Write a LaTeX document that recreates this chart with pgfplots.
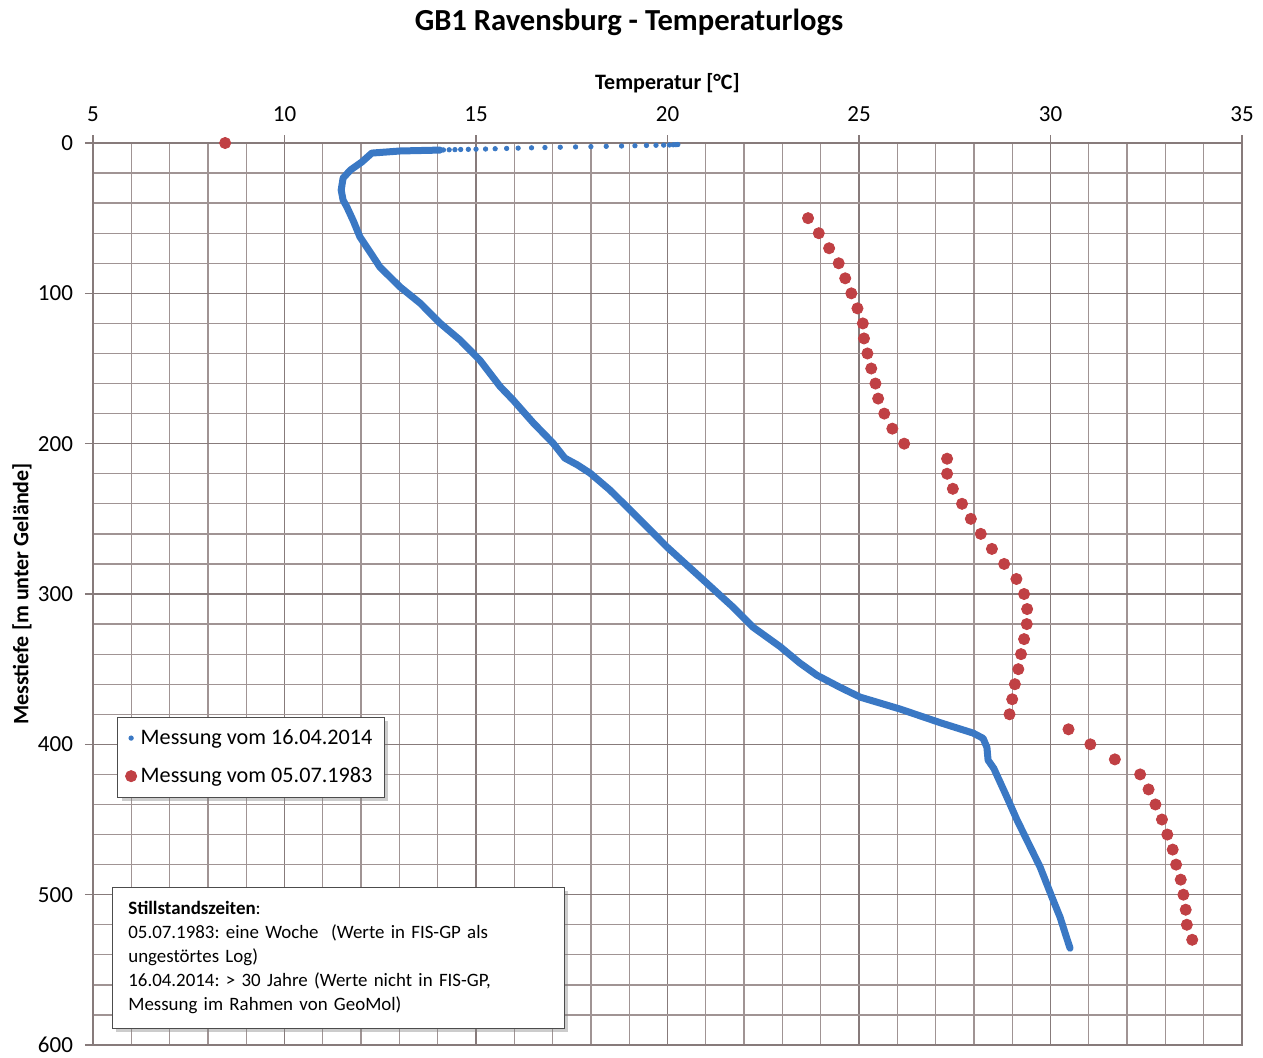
\documentclass[border=0pt]{standalone}
\usepackage{fontspec}
\setmainfont{Carlito}
\usepackage{pgfplots}
\pgfplotsset{compat=1.18}
\usetikzlibrary{shadows}
\definecolor{gridc}{RGB}{160,148,148}
\definecolor{gridm}{RGB}{135,123,123}
\definecolor{blueL}{RGB}{58,120,196}
\definecolor{redL}{RGB}{192,64,68}
\frenchspacing
\begin{document}
\begin{tikzpicture}
\useasboundingbox (-46.5pt,-6pt) rectangle (585pt,522.5pt);
\begin{axis}[
 at={(0,0)}, anchor=south west,
 scale only axis, width=574.5pt, height=451pt,
 xmin=5, xmax=35, ymin=0, ymax=600, y dir=reverse,
 xtick={5,10,...,35}, ytick={0,100,...,600},
 minor x tick num=4, minor y tick num=4,
 grid=both,
 major grid style={gridm, line width=0.7pt},
 minor grid style={gridc, line width=0.65pt},
 axis line style={gridm, line width=0.7pt},
 tick style={gridm, line width=0.7pt},
 tick align=outside, major tick length=4pt, minor tick length=0pt,
 xticklabel pos=upper, xtick pos=upper, ytick pos=left,
 /pgf/number format/assume math mode=true,
 ticklabel style={font=\fontsize{11.5}{13}\selectfont},
 xticklabel style={yshift=3.2pt},
 yticklabel style={xshift=-2.5pt},
 xlabel={Temperatur [°C]},
 ylabel={Messtiefe [m unter Gelände]},
 label style={font=\bfseries\fontsize{11}{13}\selectfont},
 xlabel style={at={(rel axis cs:0.5,1.0665)}, anchor=center},
 ylabel style={at={(rel axis cs:-0.0618,0.5)}, anchor=center},
 clip=false,
 legend style={at={(0.021,0.364)}, anchor=north west, draw=black!70, fill=white,
   drop shadow={shadow xshift=2pt, shadow yshift=-2pt, opacity=0.4},
   font=\fontsize{11.1}{12.8}\selectfont, row sep=6pt, inner xsep=4pt, inner ysep=4pt},
 legend cell align=left,
]
\addplot[blueL, line width=3.5pt, line join=round, line cap=round, forget plot] coordinates {
(14.06,4.7) (13.02,5.3) (12.28,6.7) (12.02,12.6) (11.72,18) (11.53,23.3)
(11.48,31.3) (11.53,38) (11.63,42.6) (11.80,52) (11.97,62.5) (12.22,72)
(12.49,82.5) (13.02,95.8) (13.54,106.5) (14.06,119.8) (14.58,131) (15.10,144.4)
(15.44,155.7) (15.63,162) (15.97,171) (16.49,186) (17.01,199.6) (17.32,209.6)
(17.64,214) (17.98,219.6) (18.50,230.9) (19.10,246) (19.99,268.8) (20.85,288.7)
(21.71,308.7) (22.23,322) (22.94,335) (23.46,346) (23.90,354) (24.50,362)
(25.03,368.6) (26.07,376.5) (27.11,385.5) (27.98,392.5) (28.24,396) (28.34,402)
(28.37,410.5) (28.52,416) (28.86,435) (29.12,450) (29.73,481.7) (30.07,503.7)
(30.25,515) (30.40,527) (30.51,535.6)
};
\addplot[only marks, mark=*, mark size=1.1pt, blueL] coordinates {
(14.00,4.7) (14.15,4.6) (14.30,4.5) (14.45,4.4) (14.60,4.3) (14.80,4.2)
(15.00,4.1) (15.25,4.0) (15.50,3.8) (15.80,3.6) (16.10,3.4) (16.45,3.2)
(16.80,3.0) (17.20,2.8) (17.60,2.6) (18.00,2.4) (18.40,2.2) (18.80,2.0)
(19.15,1.8) (19.45,1.6) (19.70,1.5) (19.90,1.4) (20.05,1.3) (20.15,1.2)
(20.22,1.1) (20.27,1.0)
};
\addlegendentry{Messung vom 16.04.2014}
\addplot[only marks, mark=*, mark size=2.8pt, redL] coordinates {
(8.45,0)
(23.67,50) (23.95,60) (24.22,70) (24.47,80) (24.64,90) (24.80,100)
(24.96,110) (25.10,120) (25.13,130) (25.22,140) (25.32,150) (25.43,160)
(25.50,170) (25.66,180) (25.87,190) (26.18,200)
(27.30,210) (27.30,220) (27.45,230) (27.69,240) (27.92,250) (28.18,260)
(28.47,270) (28.79,280) (29.11,290) (29.31,300) (29.39,310) (29.38,320)
(29.31,330) (29.23,340) (29.16,350) (29.07,360) (29.00,370) (28.93,380)
(30.47,390) (31.04,400) (31.68,410) (32.34,420) (32.56,430) (32.74,440)
(32.91,450) (33.05,460) (33.19,470) (33.28,480) (33.40,490) (33.47,500)
(33.53,510) (33.56,520) (33.70,530)
};
\addlegendentry{Messung vom 05.07.1983}
\node[font=\bfseries\fontsize{15.3}{18}\selectfont, anchor=center] at (rel axis cs:0.4665,1.134) {GB1 Ravensburg - Temperaturlogs};
\node[draw=black!70, fill=white, drop shadow={shadow xshift=2pt, shadow yshift=-2pt, opacity=0.4},
  anchor=north west, text width=210pt, inner xsep=8pt, inner ysep=6pt,
  minimum height=70.5pt, align=left, font=\fontsize{9.45}{12}\selectfont]
  at (rel axis cs:0.0165,0.1752)
  {\textbf{Stillstandszeiten}:\\05.07.1983: eine Woche\ \ (Werte in FIS-GP als\\ungestörtes Log)\\16.04.2014: > 30 Jahre (Werte nicht in FIS-GP,\\Messung im Rahmen von GeoMol)};
\end{axis}
\end{tikzpicture}
\end{document}
